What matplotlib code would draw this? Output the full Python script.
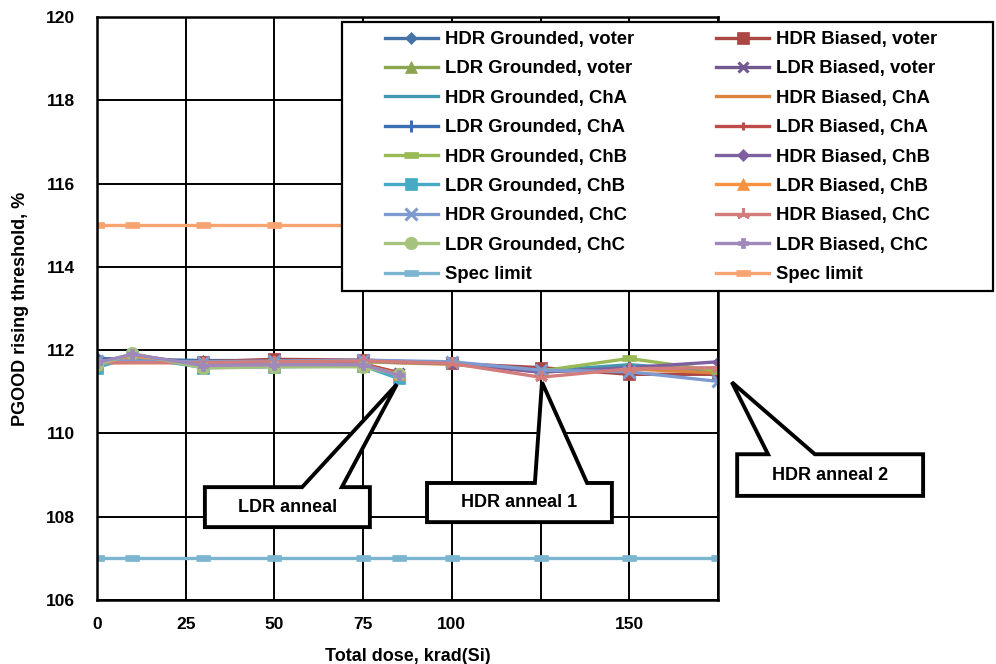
import numpy as np
import matplotlib
matplotlib.use("Agg")
import matplotlib.pyplot as plt
from matplotlib.patches import Polygon, Rectangle

plt.rcParams['font.family'] = ['Liberation Sans', 'DejaVu Sans']
plt.rcParams['font.weight'] = 'bold'

# dose points (krad(Si)), categories
ldr_x = [0, 10, 30, 50, 75, 85]
hdr_x = [0, 30, 50, 75, 100, 125, 150, 175]
spec_x = [0, 10, 30, 50, 75, 85, 100, 125, 150, 175]

# PGOOD rising threshold, %
hdr_g_voter = [111.80, 111.75, 111.75, 111.75, 111.70, 111.50, 111.60, 111.55]
hdr_b_voter = [111.70, 111.72, 111.78, 111.76, 111.68, 111.58, 111.42, 111.42]
ldr_g_voter = [111.65, 111.90, 111.60, 111.62, 111.62, 111.42]
ldr_b_voter = [111.70, 111.88, 111.65, 111.65, 111.66, 111.45]
hdr_g_cha = [111.75, 111.70, 111.72, 111.72, 111.68, 111.50, 111.65, 111.50]
hdr_b_cha = [111.70, 111.70, 111.72, 111.72, 111.66, 111.48, 111.55, 111.45]
ldr_g_cha = [111.72, 111.85, 111.62, 111.64, 111.65, 111.43]
ldr_b_cha = [111.68, 111.87, 111.64, 111.66, 111.67, 111.46]
hdr_g_chb = [111.72, 111.70, 111.72, 111.72, 111.68, 111.50, 111.80, 111.50]
hdr_b_chb = [111.72, 111.70, 111.72, 111.74, 111.68, 111.47, 111.58, 111.72]
ldr_g_chb = [111.58, 111.85, 111.58, 111.60, 111.62, 111.32]
ldr_b_chb = [111.66, 111.86, 111.62, 111.63, 111.64, 111.42]
hdr_g_chc = [111.75, 111.72, 111.74, 111.76, 111.72, 111.52, 111.48, 111.25]
hdr_b_chc = [111.70, 111.70, 111.72, 111.74, 111.68, 111.35, 111.55, 111.58]
ldr_g_chc = [111.64, 111.92, 111.57, 111.60, 111.60, 111.42]
ldr_b_chc = [111.70, 111.90, 111.63, 111.65, 111.65, 111.40]
spec_low = [107] * len(spec_x)
spec_high = [115] * len(spec_x)

xticks = [0, 25, 50, 75, 100, 125, 150, 175]
xticklabels = ['0', '25', '50', '75', '100', '', '150', '']
yticks = [106, 108, 110, 112, 114, 116, 118, 120]

# callouts: label, tip (x, y), box (x0, x1, ybot, ytop), wedge base (xa, xb)
callouts = [
    ("LDR anneal", (84.5, 111.18), (30.4, 76.9, 107.75, 108.71), (57.8, 69.0)),
    ("HDR anneal 1", (125.4, 111.23), (93.0, 145.1, 107.87, 108.81), (123.4, 138.1)),
    ("HDR anneal 2", (178.9, 111.23), (180.4, 232.8, 108.5, 109.5), (189.1, 202.3)),
]

rect = [(-1, -0.38), (1, -0.38), (1, 0.38), (-1, 0.38)]
star = (3, 2, 0)

series = [
    ("HDR Grounded, voter", hdr_x, hdr_g_voter, "#4572A7", "D", 6),
    ("HDR Biased, voter", hdr_x, hdr_b_voter, "#AA4643", "s", 8),
    ("LDR Grounded, voter", ldr_x, ldr_g_voter, "#89A54E", "^", 8),
    ("LDR Biased, voter", ldr_x, ldr_b_voter, "#71588F", "x", 7),
    ("HDR Grounded, ChA", hdr_x, hdr_g_cha, "#4198AF", None, 0),
    ("HDR Biased, ChA", hdr_x, hdr_b_cha, "#DB843D", None, 0),
    ("LDR Grounded, ChA", ldr_x, ldr_g_cha, "#3D6FB0", "+", 8),
    ("LDR Biased, ChA", ldr_x, ldr_b_cha, "#BE4B48", "+", 6),
    ("HDR Grounded, ChB", hdr_x, hdr_g_chb, "#98B954", rect, 10),
    ("HDR Biased, ChB", hdr_x, hdr_b_chb, "#7D60A0", "D", 6),
    ("LDR Grounded, ChB", ldr_x, ldr_g_chb, "#46AAC5", "s", 9),
    ("LDR Biased, ChB", ldr_x, ldr_b_chb, "#F69240", "^", 8),
    ("HDR Grounded, ChC", hdr_x, hdr_g_chc, "#7E9BD0", "x", 8),
    ("HDR Biased, ChC", hdr_x, hdr_b_chc, "#D27D7B", star, 9),
    ("LDR Grounded, ChC", ldr_x, ldr_g_chc, "#A6C37E", "o", 9),
    ("LDR Biased, ChC", ldr_x, ldr_b_chc, "#9E89BA", "P", 7),
    ("Spec limit", spec_x, spec_low, "#7BB6CE", rect, 10),
    ("Spec limit", spec_x, spec_high, "#F8A470", rect, 10),
]

W, H = 996, 664
fig = plt.figure(figsize=(W / 100, H / 100), dpi=100)
ax = fig.add_axes([97 / W, 1 - 600 / H, 621 / W, 583 / H])

handles = []
for name, x, y, c, m, ms in series:
    mew = 2.2 if m in ("x", "+", star) else 0.5
    h, = ax.plot(x, y, color=c, lw=2.4, marker=m, ms=ms, mew=mew,
                 mfc=c, mec=c, label=name, solid_joinstyle='round')
    handles.append(h)

ax.set_xlim(0, 175)
ax.set_ylim(106, 120)
ax.set_xticks(xticks)
ax.set_xticklabels(xticklabels)
ax.set_yticks(yticks)
ax.grid(True, color='black', lw=1.4)
ax.set_axisbelow(True)
for s in ax.spines.values():
    s.set_linewidth(1.8)
ax.tick_params(axis='both', length=0, labelsize=12.5)
ax.tick_params(axis='y', pad=16)
ax.tick_params(axis='x', pad=12)
ax.set_xlabel("Total dose, krad(Si)", fontsize=13, fontweight='bold', labelpad=12)
ax.set_ylabel("PGOOD rising threshold, %", fontsize=13, fontweight='bold', labelpad=12)

# callout shapes
for label, tip, box, base in callouts:
    x0, x1, yb, yt = box
    pts = [(x0, yt), (base[0], yt), tip, (base[1], yt), (x1, yt), (x1, yb), (x0, yb)]
    ax.add_patch(Polygon(pts, closed=True, facecolor='white', edgecolor='black',
                         lw=2.8, joinstyle='miter', clip_on=False, zorder=10))
    ax.text((x0 + x1) / 2, (yb + yt) / 2, label, ha='center', va='center',
            fontsize=13, fontweight='bold', zorder=11, clip_on=False)

# legend box
fig.patches.append(Rectangle((342 / W, 1 - 291 / H), (993 - 342) / W, (291 - 22) / H,
                             transform=fig.transFigure, facecolor='white',
                             edgecolor='black', lw=1.6, zorder=3))
order = list(range(0, len(handles), 2)) + list(range(1, len(handles), 2))
leg = fig.legend([handles[i] for i in order], [handles[i].get_label() for i in order],
                 loc='upper left', bbox_to_anchor=(385 / W, 1 - 31 / H),
                 ncol=2, frameon=False, handlelength=2.86,
                 handletextpad=0.38, labelspacing=0.67, columnspacing=4.45,
                 borderpad=0, borderaxespad=0, prop={'weight': 'bold', 'size': 13.3})
leg.set_zorder(5)

fig.savefig("out.png", dpi=100)
